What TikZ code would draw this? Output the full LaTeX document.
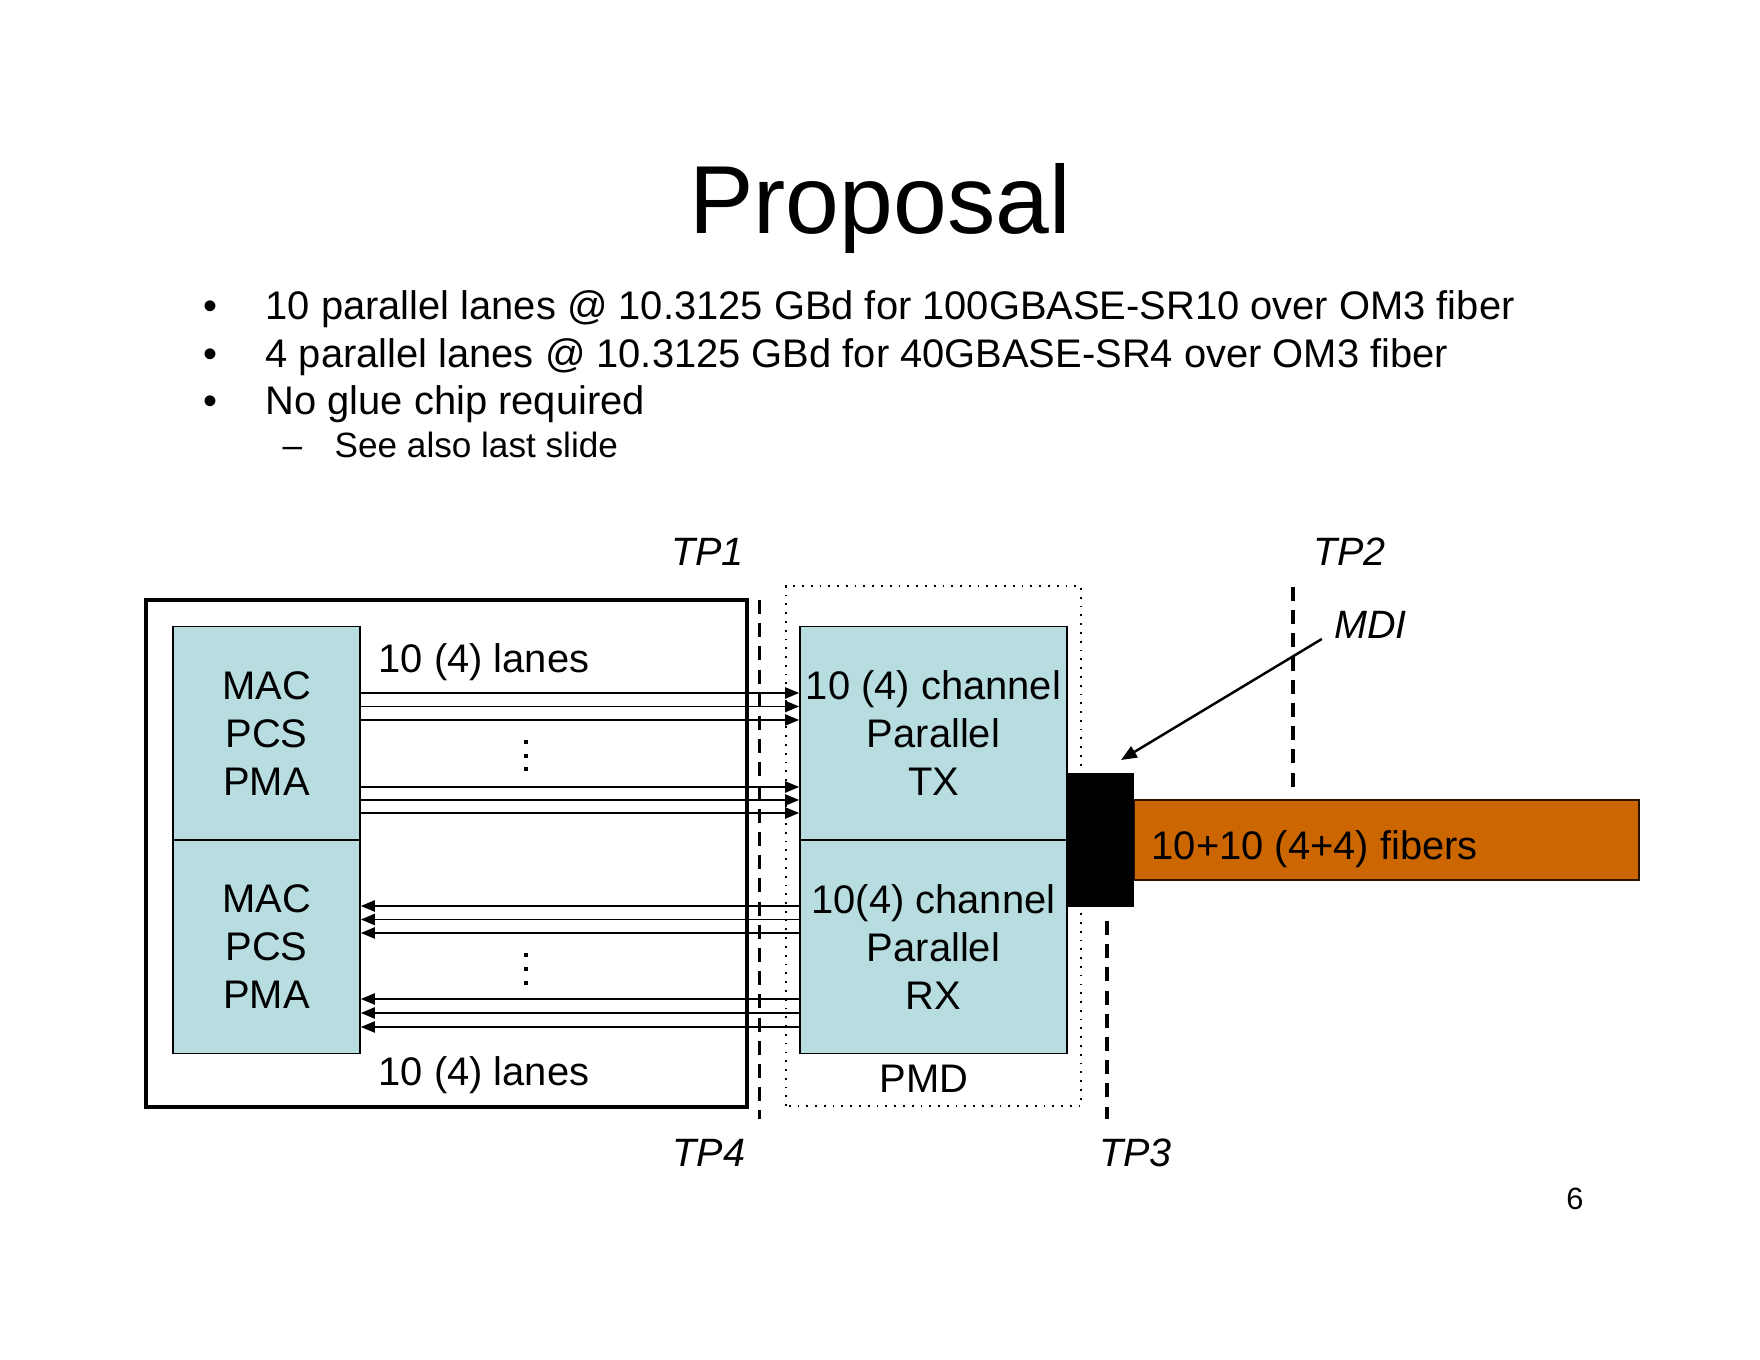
\documentclass[tikz,border=0pt]{standalone}
\usepackage{fontspec}
\setmainfont{Liberation Sans}
\usetikzlibrary{arrows.meta}

\definecolor{boxblue}{RGB}{183,221,225}
\definecolor{fiberorange}{RGB}{204,102,0}

\begin{document}
\begin{tikzpicture}[
    >={Triangle[length=4pt,width=3.2pt]},
    body/.style={font=\fontsize{11.35}{13.66}\selectfont},
    subbody/.style={font=\fontsize{10}{12}\selectfont},
    blk/.style={draw, fill=boxblue, line width=0.5pt, inner sep=0pt, align=center, body},
    tplabel/.style={anchor=base, font=\fontsize{11.25}{13.66}\selectfont\itshape},
    lane/.style={->, line width=0.5pt},
    tpline/.style={dash pattern=on 4pt off 2.6pt, line width=0.9pt}
  ]
        % Page
        \useasboundingbox (0,0) rectangle (17.6,13.6);

        % Title and bullets
        \node[anchor=base, font=\fontsize{27.5}{33}\selectfont] (title) at (8.80,11.26) {Proposal};
        \node[anchor=base, body] (dot1) at (2.107,10.40) {•};
        \node[anchor=base west, body, inner sep=0pt] (item1) at (2.65,10.40) {10 parallel lanes @ 10.3125 GBd for 100GBASE-SR10 over OM3 fiber};
        \node[anchor=base, body] (dot2) at (2.107,9.92) {•};
        \node[anchor=base west, body, inner sep=0pt] (item2) at (2.65,9.92) {4 parallel lanes @ 10.3125 GBd for 40GBASE-SR4 over OM3 fiber};
        \node[anchor=base, body] (dot3) at (2.107,9.45) {•};
        \node[anchor=base west, body, inner sep=0pt] (item3) at (2.65,9.45) {No glue chip required};
        \node[anchor=base west, subbody, inner sep=0pt] (dash4) at (2.82,9.02) {–};
        \node[anchor=base west, subbody, inner sep=0pt] (item4) at (3.34,9.02) {See also last slide};

        % Host box and PMD box
        \draw[line width=1.1pt] (1.46,2.53) rectangle (7.47,7.60);
        \draw[dotted, line width=0.5pt] (7.86,2.54) rectangle (10.81,7.74);

        % Blocks
        \node[blk, minimum width=1.87cm, minimum height=2.135cm] (mac1) at (2.665,6.2675) {MAC\\PCS\\PMA};
        \node[blk, minimum width=1.87cm, minimum height=2.135cm] (mac2) at (2.665,4.1325) {MAC\\PCS\\PMA};
        \node[blk, minimum width=2.67cm, minimum height=2.135cm] (tx) at (9.335,6.2675) {10 (4) channel\\Parallel\\TX};
        \node[blk, minimum width=2.67cm, minimum height=2.135cm] (rx) at (9.335,4.1325) {10(4) channel\\Parallel\\RX};
        \node[body, anchor=base] (pmd) at (9.24,2.67) {PMD};

        % Connector and fiber
        \node[fill=fiberorange, draw=black!80!fiberorange, line width=0.5pt, minimum width=5.05cm, minimum height=0.8cm, inner sep=0pt] (fiber) at (13.865,5.20) {};
        \node[fill=black, minimum width=0.67cm, minimum height=1.34cm, inner sep=0pt] (mdi) at (11.005,5.20) {};
        \node[body, anchor=base west, inner sep=0pt] (fibtxt) at (11.51,5.00) {10+10 (4+4) fibers};

        % TX lanes
        \draw[lane] (mac1.east |- 0,6.67) -- (tx.west |- 0,6.67);
        \draw[lane] (mac1.east |- 0,6.535) -- (tx.west |- 0,6.535);
        \draw[lane] (mac1.east |- 0,6.40) -- (tx.west |- 0,6.40);
        \draw[lane] (mac1.east |- 0,5.73) -- (tx.west |- 0,5.73);
        \draw[lane] (mac1.east |- 0,5.60) -- (tx.west |- 0,5.60);
        \draw[lane] (mac1.east |- 0,5.47) -- (tx.west |- 0,5.47);
        \fill (5.235,6.16) rectangle (5.275,6.20);
        \fill (5.235,6.02) rectangle (5.275,6.06);
        \fill (5.235,5.89) rectangle (5.275,5.93);

        % RX lanes
        \draw[lane] (rx.west |- 0,4.54) -- (mac2.east |- 0,4.54);
        \draw[lane] (rx.west |- 0,4.405) -- (mac2.east |- 0,4.405);
        \draw[lane] (rx.west |- 0,4.27) -- (mac2.east |- 0,4.27);
        \draw[lane] (rx.west |- 0,3.61) -- (mac2.east |- 0,3.61);
        \draw[lane] (rx.west |- 0,3.47) -- (mac2.east |- 0,3.47);
        \draw[lane] (rx.west |- 0,3.33) -- (mac2.east |- 0,3.33);
        \fill (5.235,4.03) rectangle (5.275,4.07);
        \fill (5.235,3.89) rectangle (5.275,3.93);
        \fill (5.235,3.75) rectangle (5.275,3.79);

        % Lane labels
        \node[body, anchor=base west, inner sep=0pt] (txlanes) at (3.78,6.87) {10 (4) lanes};
        \node[body, anchor=base west, inner sep=0pt] (rxlanes) at (3.78,2.74) {10 (4) lanes};

        % Test points
        \coordinate (tp1top) at (7.595,7.60);
        \coordinate (tp1bot) at (7.595,2.41);
        \coordinate (tp2top) at (12.93,7.73);
        \coordinate (tp2bot) at (12.93,5.73);
        \coordinate (tp3top) at (11.07,4.39);
        \coordinate (tp3bot) at (11.07,2.41);
        \draw[tpline] (tp1top) -- (tp1bot);
        \draw[tpline] (tp2top) -- (tp2bot);
        \draw[tpline] (tp3top) -- (tp3bot);
        \node[tplabel] (tp1) at (7.075,7.94) {TP1};
        \node[tplabel] (tp2) at (13.495,7.94) {TP2};
        \node[tplabel] (tp4) at (7.09,1.93) {TP4};
        \node[tplabel] (tp3) at (11.355,1.93) {TP3};

        % MDI pointer
        \node[tplabel] (mditxt) at (13.705,7.21) {MDI};
        \coordinate (mditip) at (11.21,6.00);
        \draw[->, line width=0.7pt, >={Triangle[length=4.5pt,width=3.6pt]}] (mditxt.base west) -- (mditip);

        % Page number
        \node[anchor=base, font=\fontsize{8.75}{10}\selectfont] (pagenum) at (15.75,1.50) {6};
\end{tikzpicture}
\end{document}
